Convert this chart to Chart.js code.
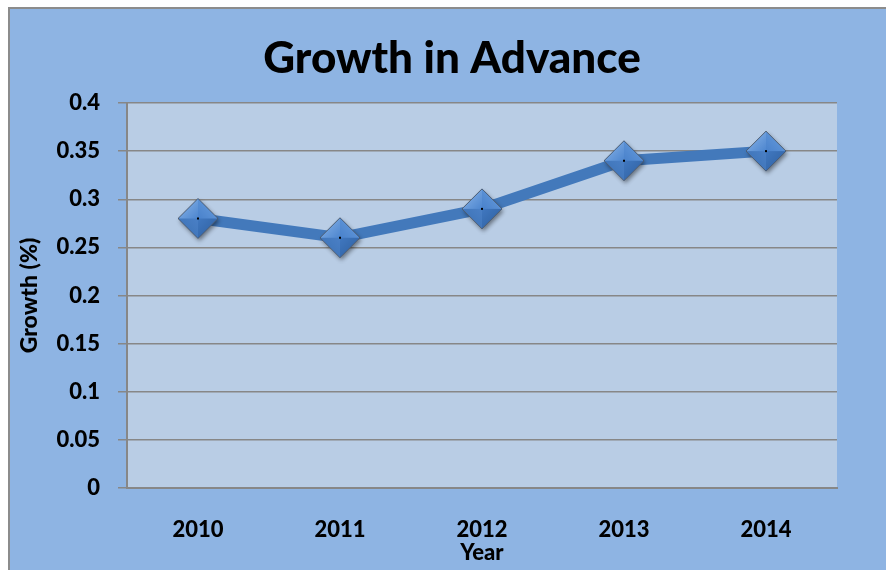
<!DOCTYPE html>
<html>
<head>
<meta charset="utf-8">
<script src="https://cdn.jsdelivr.net/npm/chart.js@4/dist/chart.umd.min.js"></script>
<style>
  body { margin: 0; background: #ffffff; }
  #frame {
    position: absolute;
    left: 8px;
    top: 7px;
    border-left: 2px solid #8c8c8c;
    border-top: 2px solid #8c8c8c;
    background: #8eb4e3;
  }
  #growth { display: block; }
</style>
</head>
<body>
<div id="frame">
  <canvas id="growth" width="876" height="561"></canvas>
</div>
<script>
const years = ['2010', '2011', '2012', '2013', '2014'];
const growth = [0.28, 0.26, 0.29, 0.34, 0.35];
const yTicks = [0, 0.05, 0.1, 0.15, 0.2, 0.25, 0.3, 0.35, 0.4];

const fontType = 'Lato, "Open Sans", sans-serif';
const gridGray = '#878787';

// bevelled diamond used as the point marker
function makeDiamond(r) {
  const pad = 6;
  const c = document.createElement('canvas');
  c.width = c.height = 2 * (r + pad);
  const g = c.getContext('2d');
  const cx = r + pad, cy = r + pad;
  const top = [cx, cy - r], right = [cx + r, cy], bottom = [cx, cy + r], left = [cx - r, cy];

  // soft shadow
  g.save();
  g.shadowColor = 'rgba(0,0,0,0.45)';
  g.shadowBlur = 4;
  g.shadowOffsetX = 1.5;
  g.shadowOffsetY = 2.5;
  g.beginPath();
  g.moveTo(...top); g.lineTo(...right); g.lineTo(...bottom); g.lineTo(...left);
  g.closePath();
  g.fillStyle = '#3f74b6';
  g.fill();
  g.restore();

  const facet = (a, b, fill) => {
    g.beginPath();
    g.moveTo(cx, cy); g.lineTo(...a); g.lineTo(...b);
    g.closePath();
    g.fillStyle = fill;
    g.fill();
  };
  const grad = (x0, y0, x1, y1, c0, c1) => {
    const lg = g.createLinearGradient(x0, y0, x1, y1);
    lg.addColorStop(0, c0);
    lg.addColorStop(1, c1);
    return lg;
  };
  facet(left, top, grad(cx - r, cy - r, cx, cy, '#8fb8ea', '#4d86cf'));
  facet(top, right, grad(cx + r, cy - r, cx, cy, '#6a9fe0', '#4a82cb'));
  facet(right, bottom, grad(cx + r, cy + r, cx, cy, '#2d5e9e', '#4178c0'));
  facet(bottom, left, grad(cx - r, cy + r, cx, cy, '#3a6fb2', '#4a80c6'));

  g.beginPath();
  g.moveTo(...top); g.lineTo(...right); g.lineTo(...bottom); g.lineTo(...left);
  g.closePath();
  g.lineWidth = 1;
  g.strokeStyle = '#4c5d73';
  g.stroke();

  g.fillStyle = '#000000';
  g.fillRect(cx - 1, cy - 1, 2, 2);
  return c;
}

const plotBackground = {
  id: 'plotBackground',
  beforeDraw(chart) {
    const { ctx, chartArea } = chart;
    ctx.save();
    ctx.fillStyle = '#b9cde5';
    ctx.fillRect(chartArea.left, chartArea.top, chartArea.right - chartArea.left, chartArea.bottom - chartArea.top);
    ctx.restore();
  }
};

const chartTitle = {
  id: 'chartTitle',
  afterDraw(chart) {
    const ctx = chart.ctx;
    ctx.save();
    ctx.font = '900 44px ' + fontType;
    ctx.fillStyle = '#000000';
    ctx.textAlign = 'center';
    ctx.textBaseline = 'alphabetic';
    ctx.fillText('Growth in Advance', 442, 64);
    ctx.restore();
  }
};

const tickFont = { family: fontType, size: 22, weight: '900', lineHeight: 1 };

new Chart(document.getElementById('growth'), {
  type: 'line',
  data: {
    labels: years,
    datasets: [{
      label: 'Growth',
      data: growth,
      borderColor: '#4379bb',
      borderWidth: 11,
      pointStyle: makeDiamond(20),
      tension: 0
    }]
  },
  options: {
    responsive: false,
    animation: false,
    layout: { padding: { top: 94, right: 49, left: 0, bottom: 0 } },
    plugins: {
      legend: { display: false },
      tooltip: { enabled: false },
      title: { display: false }
    },
    scales: {
      x: {
        offset: true,
        grid: { display: false, drawTicks: false },
        border: { display: true, color: gridGray, width: 2 },
        ticks: { color: '#000000', font: tickFont, padding: 31, maxRotation: 0 },
        title: {
          display: true,
          text: 'Year',
          color: '#000000',
          font: tickFont,
          padding: { top: 0, bottom: 6 }
        },
        afterFit(scale) { scale.height = 82; }
      },
      y: {
        min: 0,
        max: 0.4,
        afterBuildTicks(scale) { scale.ticks = yTicks.map(v => ({ value: v })); },
        grid: { color: gridGray, lineWidth: 1.5, tickLength: 9, drawTicks: true },
        border: { display: true, color: gridGray, width: 2 },
        ticks: {
          color: '#000000',
          font: tickFont,
          padding: 18,
          callback: (v) => String(v)
        },
        title: {
          display: true,
          text: 'Growth (%)',
          color: '#000000',
          font: { family: fontType, size: 23, weight: '900', lineHeight: 1 },
          padding: { top: 8, bottom: 0 }
        },
        afterFit(scale) { scale.width = 117; }
      }
    }
  },
  plugins: [plotBackground, chartTitle]
});
</script>
</body>
</html>
